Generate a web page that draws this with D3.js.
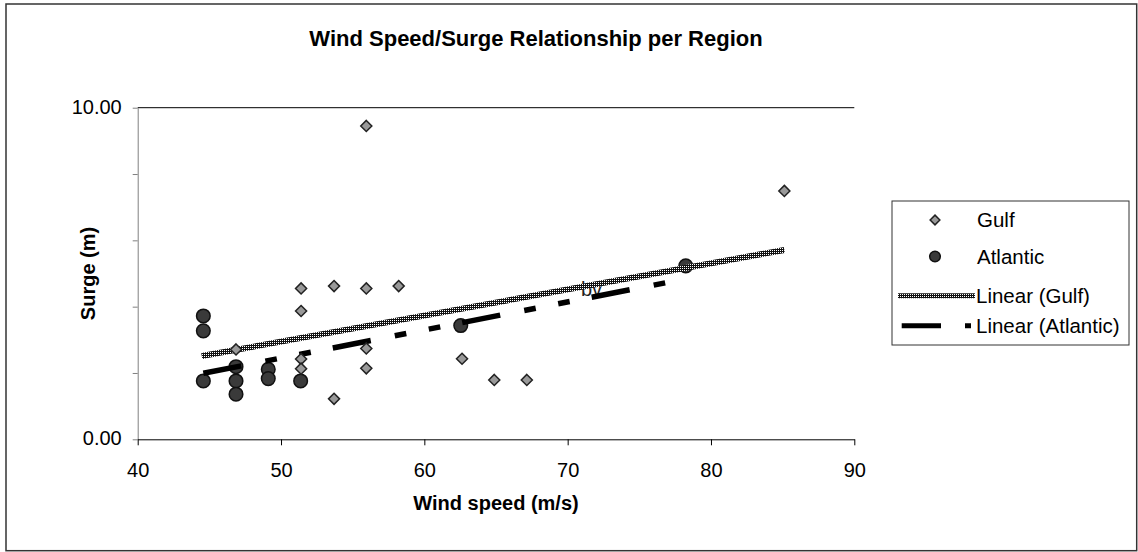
<!DOCTYPE html>
<meta charset="utf-8">
<style>

body {
  margin: 0;
  background: #fff;
}

svg {
  font-family: "Liberation Sans", Arial, sans-serif;
}

.frame {
  fill: #fff;
  stroke: #333;
  stroke-width: 1.5;
}

.axis text {
  font-size: 20px;
  fill: #000;
}

.axis--y path,
.axis--y line {
  stroke: #808080;
}

.axis--x path,
.axis--x line {
  stroke: #000;
}

.title {
  font-size: 22px;
  font-weight: bold;
}

.label {
  font-size: 20px;
  font-weight: bold;
}

.legend text {
  font-size: 20.5px;
}

.gulf {
  fill: #999;
  stroke: #222;
  stroke-width: 1.5;
}

.atlantic {
  fill: #3a3a3a;
  stroke: #111;
  stroke-width: 1.5;
}
</style>
<body>
<script src="https://cdnjs.cloudflare.com/ajax/libs/d3/7.8.5/d3.min.js"></script>
<script>

// values
var gulfWind  = [55.95, 51.40, 53.70, 55.95, 58.21, 51.40, 46.86, 51.40, 51.40, 55.95, 55.95, 53.70, 62.63, 64.88, 67.15, 85.12];
var gulfSurge = [9.45, 4.55, 4.62, 4.55, 4.62, 3.87, 2.71, 2.42, 2.13, 2.74, 2.14, 1.22, 2.43, 1.79, 1.79, 7.49];

var atlanticWind  = [44.58, 44.58, 44.58, 46.86, 46.86, 46.86, 49.11, 49.11, 51.37, 62.54, 78.24];
var atlanticSurge = [3.72, 3.27, 1.76, 2.19, 1.76, 1.36, 2.11, 1.83, 1.76, 3.43, 5.23];

// trend line ends (linear fit as drawn)
var gulfTrendWind  = [44.47, 85.12];
var gulfTrendSurge = [2.51, 5.71];
var atlanticTrendWind  = [44.58, 78.24];
var atlanticTrendSurge = [1.99, 4.84];

var xTicks = [40, 50, 60, 70, 80, 90];
var yTicks = [0, 2, 4, 6, 8, 10];
var yLabelled = [0, 10];

var legendNames = ["Gulf", "Atlantic", "Linear (Gulf)", "Linear (Atlantic)"];

var width = 1138,
    height = 552,
    plotLeft = 137.7,
    plotRight = 854.3,
    plotTop = 107.7,
    plotBottom = 439.3;

var x = d3.scaleLinear()
    .domain([40, 90])
    .range([plotLeft, plotRight]);

var y = d3.scaleLinear()
    .domain([0, 10])
    .range([plotBottom, plotTop]);

var svg = d3.select("body").append("svg")
    .attr("width", width)
    .attr("height", height);

var defs = svg.append("defs");
var hatch = defs.append("pattern")
    .attr("id", "hatch")
    .attr("width", 2)
    .attr("height", 2)
    .attr("patternUnits", "userSpaceOnUse");
hatch.append("rect").attr("width", 2).attr("height", 2).attr("fill", "#111");
hatch.append("rect").attr("width", 1).attr("height", 1).attr("fill", "#fff");

svg.append("rect")
    .attr("class", "frame")
    .attr("x", 6)
    .attr("y", 4)
    .attr("width", 1130.7)
    .attr("height", 546.7);

svg.append("text")
    .attr("class", "title")
    .attr("x", 536)
    .attr("y", 46)
    .attr("text-anchor", "middle")
    .text("Wind Speed/Surge Relationship per Region");

// top line of the plot area
svg.append("line")
    .attr("x1", x(40))
    .attr("x2", x(90))
    .attr("y1", y(10))
    .attr("y2", y(10))
    .style("stroke", "#000");

var xAxis = d3.axisBottom(x)
    .tickValues(xTicks)
    .tickSize(6)
    .tickSizeOuter(0)
    .tickFormat(d3.format("d"));

var yAxis = d3.axisLeft(y)
    .tickValues(yTicks)
    .tickSize(5)
    .tickSizeOuter(0)
    .tickFormat(function(d) { return yLabelled.indexOf(d) >= 0 ? d3.format(".2f")(d) : ""; });

var gy = svg.append("g")
    .attr("class", "axis axis--y")
    .attr("transform", "translate(" + plotLeft + ",0)")
    .call(yAxis);
gy.selectAll("text")
    .attr("x", -16)
    .attr("dy", "0.28em");

var gx = svg.append("g")
    .attr("class", "axis axis--x")
    .attr("transform", "translate(0," + plotBottom + ")")
    .call(xAxis);
gx.selectAll("text")
    .attr("y", 37.4)
    .attr("dy", null);

svg.selectAll(".axis").attr("font-family", null).attr("font-size", null);

svg.append("text")
    .attr("class", "label")
    .attr("x", (plotLeft + plotRight) / 2)
    .attr("y", 510)
    .attr("text-anchor", "middle")
    .text("Wind speed (m/s)");

svg.append("text")
    .attr("class", "label")
    .attr("transform", "translate(95," + ((plotTop + plotBottom) / 2) + ") rotate(-90)")
    .attr("text-anchor", "middle")
    .text("Surge (m)");

// stray label left in the chart
svg.append("text")
    .attr("x", 581)
    .attr("y", 296)
    .style("font-size", "20px")
    .style("fill", "#222")
    .text("bv");

var atlantic = atlanticWind.map(function(w, i) { return [w, atlanticSurge[i]]; });
var gulf = gulfWind.map(function(w, i) { return [w, gulfSurge[i]]; });

svg.selectAll("circle.atlantic")
    .data(atlantic)
  .enter().append("circle")
    .attr("class", "atlantic")
    .attr("cx", function(d) { return x(d[0]); })
    .attr("cy", function(d) { return y(d[1]); })
    .attr("r", 6.8);

var line = d3.line()
    .x(function(d) { return x(d[0]); })
    .y(function(d) { return y(d[1]); });

var gulfFit = gulfTrendWind.map(function(w, i) { return [w, gulfTrendSurge[i]]; });
var atlanticFit = atlanticTrendWind.map(function(w, i) { return [w, atlanticTrendSurge[i]]; });

svg.append("path")
    .datum(gulfFit)
    .attr("d", line)
    .style("fill", "none")
    .style("stroke", "url(#hatch)")
    .style("stroke-width", 6);

svg.append("path")
    .datum(atlanticFit)
    .attr("d", line)
    .style("fill", "none")
    .style("stroke", "#000")
    .style("stroke-width", 5.5)
    .style("stroke-dasharray", "38.7,24.5,11.7,22.9,11.7,22.4");

var diamond = d3.symbol().type(d3.symbolDiamond2).size(78);

svg.selectAll("path.gulf")
    .data(gulf)
  .enter().append("path")
    .attr("class", "gulf")
    .attr("d", diamond)
    .attr("transform", function(d) { return "translate(" + x(d[0]) + "," + y(d[1]) + ")"; });

// legend
var legend = svg.append("g").attr("class", "legend");

legend.append("rect")
    .attr("x", 892)
    .attr("y", 201)
    .attr("width", 237)
    .attr("height", 144)
    .style("fill", "#fff")
    .style("stroke", "#333")
    .style("stroke-width", 1);

var rowY = [220, 256.5, 295.7, 325.7];

legend.selectAll("text")
    .data(legendNames)
  .enter().append("text")
    .attr("x", function(d, i) { return i < 2 ? 977 : 976; })
    .attr("y", function(d, i) { return rowY[i] + 7; })
    .text(function(d) { return d; });

legend.append("path")
    .attr("class", "gulf")
    .attr("d", d3.symbol().type(d3.symbolDiamond2).size(60))
    .attr("transform", "translate(935," + rowY[0] + ")");

legend.append("circle")
    .attr("class", "atlantic")
    .attr("cx", 935)
    .attr("cy", rowY[1])
    .attr("r", 5.3);

legend.append("line")
    .attr("x1", 898).attr("x2", 975)
    .attr("y1", rowY[2]).attr("y2", rowY[2])
    .style("stroke", "url(#hatch)")
    .style("stroke-width", 5);

legend.append("line")
    .attr("x1", 901.7).attr("x2", 971)
    .attr("y1", rowY[3]).attr("y2", rowY[3])
    .style("stroke", "#000")
    .style("stroke-width", 5)
    .style("stroke-dasharray", "39.3,24,6,100");

</script>
